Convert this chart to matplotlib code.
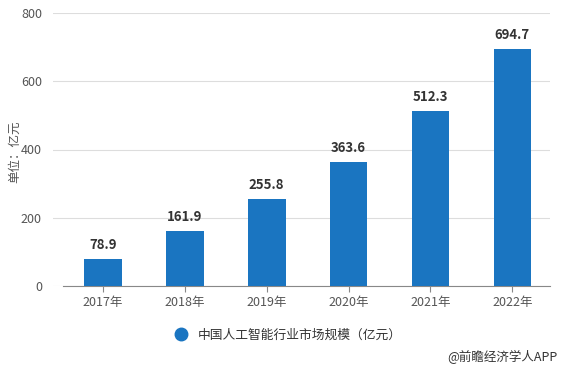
import matplotlib
matplotlib.use("Agg")
import matplotlib.pyplot as plt
from matplotlib.lines import Line2D

plt.rcParams['font.family'] = ['Noto Sans CJK SC', 'DejaVu Sans']

years = ['2017年', '2018年', '2019年', '2020年', '2021年', '2022年']
market_size = [78.9, 161.9, 255.8, 363.6, 512.3, 694.7]
series_name = '中国人工智能行业市场规模（亿元）'
y_ticks = [0, 200, 400, 600, 800]

bar_color = '#1a75c1'
text_color = '#555555'

fig = plt.figure(figsize=(5.65, 3.70), dpi=100)
ax = fig.add_axes([53 / 565, 84 / 370, 497 / 565, 273 / 370])

x = list(range(len(years)))
ax.bar(x, market_size, width=0.46, color=bar_color, zorder=3)

for xi, v in zip(x, market_size):
    ax.annotate('{}'.format(v), xy=(xi, v), xytext=(0, 5),
                textcoords='offset points', ha='center', va='bottom',
                fontsize=9.5, fontweight='bold', color='#333333')

ax.set_xlim(-0.61, 5.46)
ax.set_ylim(0, 800)
ax.set_yticks(y_ticks)
ax.set_xticks(x)
ax.set_xticklabels(years)
ax.yaxis.grid(True, color='#dddddd', linewidth=0.8, zorder=0)
ax.tick_params(axis='y', length=0, labelsize=9, labelcolor=text_color, pad=8)
ax.tick_params(axis='x', length=4, color='#888888', labelsize=9,
               labelcolor=text_color, pad=3)

for s in ['top', 'right', 'left']:
    ax.spines[s].set_visible(False)
ax.spines['bottom'].set_color('#888888')
ax.spines['bottom'].set_bounds(-0.49, 5.46)

fig.text(15 / 565, 1 - 152 / 370, '单位：亿元', rotation=90, ha='center',
         va='center', fontsize=9, color=text_color)

handle = Line2D([], [], marker='o', linestyle='', markersize=9,
                color=bar_color)
fig.legend([handle], [series_name], loc='center left',
           bbox_to_anchor=(157 / 565, 1 - 335 / 370), frameon=False,
           fontsize=9.2, handletextpad=0.3, labelcolor='#333333')

fig.text(558 / 565, 1 - 357 / 370, '@前瞻经济学人APP', ha='right',
         va='center', fontsize=9, color='#333333')

fig.savefig('out.png', dpi=100)
